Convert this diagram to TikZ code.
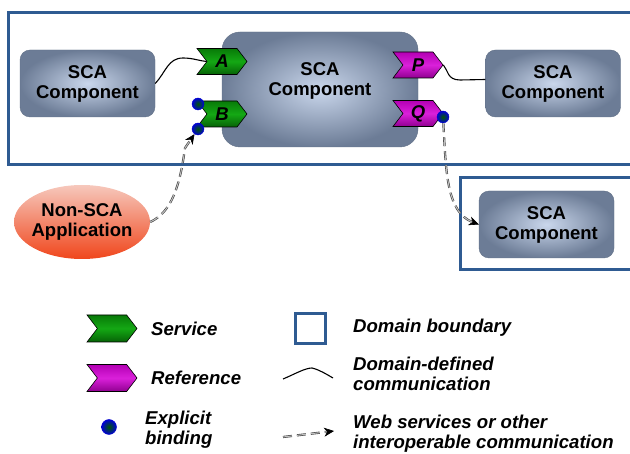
\documentclass[tikz,border=0pt]{standalone}
\usepackage{fontspec}
\setmainfont{Liberation Sans}
\usetikzlibrary{shapes.symbols,shapes.geometric,arrows.meta}
\definecolor{dom}{HTML}{2F5B92}
\definecolor{boxin}{HTML}{CAD7EC}
\definecolor{boxout}{HTML}{6C7C96}
\definecolor{svc}{HTML}{087A08}
\definecolor{svcmid}{HTML}{14A814}
\definecolor{refc}{HTML}{B400B4}
\definecolor{refmid}{HTML}{DA20DA}
\definecolor{elltop}{HTML}{F6C8BC}
\definecolor{ellbot}{HTML}{F0461C}
\begin{document}
\begin{tikzpicture}[x=1pt,y=-1pt,
  lbl/.style={font=\bfseries\fontsize{18.5}{20}\selectfont, align=center, text=black},
  leg/.style={font=\bfseries\itshape\fontsize{18.6}{20}\selectfont, align=left, anchor=west, inner sep=0pt},
  comp/.style={rounded corners=10pt, inner color=boxin, outer color=boxout, draw=boxout!90!black, thin,
    minimum width=135pt, minimum height=67pt, inner sep=0pt},
  chev/.style={signal, signal from=west, signal to=east, signal pointer angle=105, draw=black, semithick,
    minimum width=50pt, minimum height=26pt, inner sep=0pt,
    font=\bfseries\itshape\fontsize{18.5}{20}\selectfont},
  svcchev/.style={chev, top color=svc, bottom color=svc!80!black, middle color=svcmid},
  refchev/.style={chev, top color=refc, bottom color=refc!80!black, middle color=refmid},
  bind/.style={circle, minimum size=12pt, inner sep=0pt, inner color=green!35!black, outer color=blue!85!black, draw=blue!80!black},
  domline/.style={draw=dom, line width=3pt},
  wire/.style={draw=black, line width=1.1pt},
  ws/.style={draw=black!75, double=black!25, double distance=1pt, line width=0.6pt, dash pattern=on 9pt off 5pt},
  wstip/.style={-{Stealth[length=10pt,width=9pt,black]}}
]
\useasboundingbox (0,0) rectangle (630,454);
\clip (0,0) rectangle (630,454);

% domains
\draw[domline] (8,13) rectangle (640,165);
\draw[domline] (460,178) rectangle (640,270);

% components
\node[comp] (c1) at (87.5,83.5) {};
\node[lbl] (c1t) at (c1.center) {SCA\\Component};
\node[comp, rounded corners=18pt, minimum width=196pt, minimum height=115pt] (c2) at (320,89.5) {};
\node[lbl] (c2t) at (320,81) {SCA\\Component};
\node[comp] (c3) at (553,83.5) {};
\node[lbl] (c3t) at (c3.center) {SCA\\Component};
\node[comp] (c4) at (546.5,224.5) {};
\node[lbl] (c4t) at (c4.center) {SCA\\Component};

% ellipse
\node[ellipse, minimum width=136pt, minimum height=74pt, top color=elltop, bottom color=ellbot, inner sep=0pt] (ns) at (82,222) {};
\node[lbl] (nst) at (ns.center) {Non-SCA\\Application};

% services / references
\node[svcchev] (A) at (222,61.5) {A};
\node[svcchev] (B) at (222,114) {B};
\node[refchev] (P) at (418,65) {P};
\node[refchev] (Q) at (418,113.5) {Q};

% bindings
\node[bind] (b1) at (198,104) {};
\node[bind] (b2) at (198,129) {};
\node[bind] (qd) at (443,117) {};

% wires
\draw[wire] (c1.east) .. controls (166,72) and (168,58) .. (183,58)
   .. controls (193,58) and (200,61) .. (A.west);
\draw[wire] (P.east) .. controls (448,70) and (447,80) .. (460,80) -- ([yshift=4pt]c3.west);

% web service connectors
\draw[ws, wstip] (ns.east) .. controls (172,212) and (180,185) .. (185,148) -- (b2);
\draw[ws, wstip] (qd) .. controls (446,170) and (446,212) .. (c4.west);

% legend
\node[svcchev, minimum height=27pt] (ls) at (112,328.5) {};
\node[leg] (lst) at (151,329) {Service};
\node[refchev, minimum height=27pt] (lr) at (112,378) {};
\node[leg] (lrt) at (151,378) {Reference};
\node[bind, minimum size=15pt] (lb) at (109,427) {};
\node[leg] (lbt) at (145,430) {Explicit\\binding};

\node[draw=dom, line width=3pt, minimum size=30pt, inner sep=0pt] (ld) at (310.5,329) {};
\node[leg] (ldt) at (353,328) {Domain boundary};
\coordinate (l1) at (283,379);
\coordinate (l2) at (333,378);
\draw[wire] (l1) .. controls (295,374) and (305,368) .. (312,368) .. controls (320,370) and (326,374) .. (l2);
\node[leg] (lwt) at (353,374) {Domain-defined\\communication};
\coordinate (w1) at (283,437);
\coordinate (w2) at (334,431);
\draw[ws, wstip] (w1) -- (w2);
\node[leg] (lwst) at (353,434) {Web services or other\\interoperable communication};
\end{tikzpicture}
\end{document}
